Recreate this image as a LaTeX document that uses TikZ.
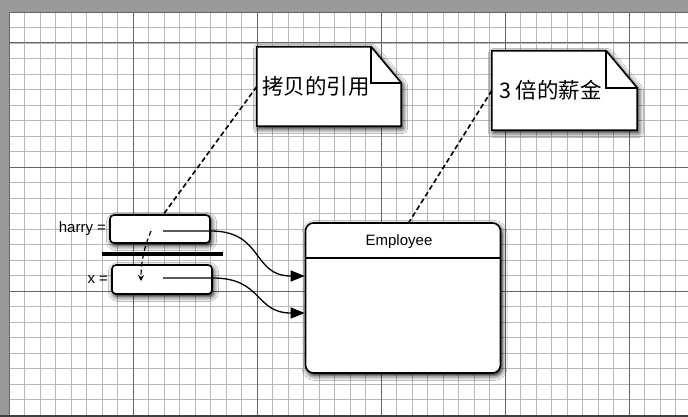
\documentclass[tikz,border=0pt]{standalone}
\usepackage{fontspec}
\setmainfont{Liberation Sans}
\newfontfamily\cjk{Noto Sans CJK SC}
\usetikzlibrary{arrows.meta,shadows.blur}

\begin{document}
\begin{tikzpicture}[x=1pt,y=-1pt,every node/.style={font=\fontsize{15}{18}\selectfont},
  softshadow/.style={blur shadow={shadow xshift=1.5pt,shadow yshift=-2.5pt,shadow blur radius=5pt,shadow opacity=100}},
  refbox/.style={draw,line width=1.6pt,fill=white,rounded corners=4pt,minimum width=100pt,minimum height=28pt,inner sep=0pt,softshadow},
  reflink/.style={line width=1.3pt,-{Triangle[length=14pt,width=11pt,color=black,fill=black]}},
  notelink/.style={line width=1.6pt,dash pattern=on 5pt off 3pt},
  notetext/.style={font=\cjk\fontsize{21.5}{24}\selectfont,anchor=west,inner sep=0pt}]
% paper with grid
\useasboundingbox (0,0) rectangle (688,417);
\fill[black!40] (0,0) rectangle (688,417);
\fill[white] (9,12) rectangle (688,415);
\begin{scope}
\clip (9,12) rectangle (688,415);
\foreach \k in {1,...,43} \draw[black!28,line width=0.9pt] (9+15.5*\k,12) -- (9+15.5*\k,415);
\foreach \k in {1,...,25} \draw[black!28,line width=0.9pt] (9,12+15.5*\k) -- (688,12+15.5*\k);
\foreach \k in {1,...,5} \draw[black!60,line width=1pt] (9+124*\k,12) -- (9+124*\k,415);
\foreach \k in {0,1,2} \draw[black!60,line width=1pt] (9,43+124*\k) -- (688,43+124*\k);
\end{scope}
\draw[black!60,line width=0.8pt] (9,415) -- (9,12) -- (688,12);
\fill[black!75] (0,415) rectangle (688,417);
% variables
\node[refbox] (harry) at (160,229) {};
\node[refbox,minimum height=29pt] (x) at (162,279.5) {};
\node[anchor=east,inner sep=3pt] (harrylabel) at (harry.west) {harry =};
\node[anchor=east,inner sep=3pt] (xlabel) at (x.west) {x =};
\draw[line width=4pt] (102,254) -- (223,254);
% object
\node[draw,line width=1.6pt,fill=white,rounded corners=8pt,minimum width=195pt,minimum height=150pt,softshadow] (emp) at (403,298) {};
\draw[line width=1.3pt] (emp.west |- 0,258) -- (emp.east |- 0,258);
\node (emptitle) at (399,242) {Employee};
% notes
\node[minimum width=144pt,minimum height=79pt,inner sep=0pt] (copynote) at (329,86.5) {};
\filldraw[fill=white,line width=1.6pt,softshadow] (copynote.south west) -- (copynote.north west) -- ([xshift=-30pt]copynote.north east) -- ([yshift=-36pt]copynote.north east) -- (copynote.south east) -- cycle;
\draw[line width=1.6pt] ([xshift=-30pt]copynote.north east) -- ([xshift=-30pt,yshift=-36pt]copynote.north east) -- ([yshift=-36pt]copynote.north east);
\node[notetext] (copytext) at ([xshift=5pt]copynote.west) {拷贝的引用};
\node[minimum width=145pt,minimum height=79pt,inner sep=0pt] (salarynote) at (564.5,90.5) {};
\filldraw[fill=white,line width=1.6pt,softshadow] (salarynote.south west) -- (salarynote.north west) -- ([xshift=-31pt]salarynote.north east) -- ([yshift=-37pt]salarynote.north east) -- (salarynote.south east) -- cycle;
\draw[line width=1.6pt] ([xshift=-31pt]salarynote.north east) -- ([xshift=-31pt,yshift=-37pt]salarynote.north east) -- ([yshift=-37pt]salarynote.north east);
\node[notetext] (salarytext) at ([xshift=7pt]salarynote.west) {3 倍的薪金};
% connectors
\coordinate (copyend) at (163,215);
\coordinate (copytail) at (151,231);
\coordinate (copyhead) at (141,281);
\coordinate (harryref) at (163,231);
\coordinate (xref) at (163,278);
\draw[notelink] (copynote.west) -- (copyend);
\draw[notelink,line width=1.2pt,-{Stealth[length=6pt,width=6pt]}] (copytail) .. controls (144,248) and (141,262) .. (copyhead);
\draw[notelink] (salarynote.west) -- ([xshift=6pt]emp.north);
\draw[reflink] (harryref) -- (harry.east |- harryref) to[out=0,in=180,looseness=1.3] ([yshift=22pt]emp.west);
\draw[reflink] (xref) -- (x.east |- xref) to[out=0,in=180,looseness=1.3] ([yshift=-15pt]emp.west);
\end{tikzpicture}
\end{document}
